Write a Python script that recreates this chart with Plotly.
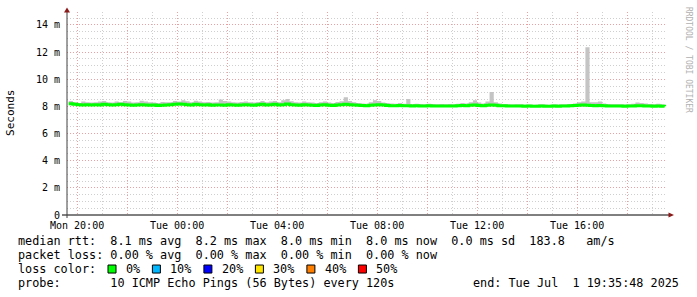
import plotly.graph_objects as go
import pandas as pd

# ---------------- data ----------------
start_time = "2025-06-30 19:35:48"
end_time = "2025-07-01 19:35:48"
sample_times = pd.date_range("2025-06-30 19:40:00", periods=144, freq="10min")

# median rtt in ms (one row per hour, 10-minute samples)
median_ms = [
    8.20, 8.15, 8.12, 8.10, 8.12, 8.10,
    8.12, 8.10, 8.15, 8.12, 8.10, 8.12,
    8.15, 8.12, 8.10, 8.08, 8.10, 8.12,
    8.10, 8.08, 8.10, 8.06, 8.08, 8.10,
    8.12, 8.15, 8.18, 8.15, 8.12, 8.10,
    8.15, 8.12, 8.10, 8.12, 8.08, 8.10,
    8.10, 8.08, 8.12, 8.10, 8.08, 8.10,
    8.12, 8.10, 8.08, 8.12, 8.15, 8.10,
    8.12, 8.15, 8.10, 8.12, 8.18, 8.12,
    8.10, 8.08, 8.12, 8.10, 8.08, 8.06,
    8.10, 8.12, 8.08, 8.06, 8.10, 8.12,
    8.15, 8.12, 8.10, 8.08, 8.06, 8.05,
    8.08, 8.10, 8.12, 8.10, 8.06, 8.05,
    8.05, 8.06, 8.04, 8.05, 8.03, 8.04,
    8.03, 8.02, 8.04, 8.03, 8.02, 8.03,
    8.02, 8.03, 8.02, 8.04, 8.06, 8.05,
    8.08, 8.10, 8.06, 8.05, 8.08, 8.10,
    8.08, 8.05, 8.04, 8.03, 8.02, 8.03,
    8.02, 8.01, 8.02, 8.00, 8.01, 8.02,
    8.01, 8.00, 8.02, 8.01, 8.02, 8.03,
    8.04, 8.06, 8.08, 8.10, 8.08, 8.06,
    8.05, 8.06, 8.04, 8.03, 8.02, 8.03,
    8.02, 8.01, 8.02, 8.03, 8.05, 8.04,
    8.03, 8.02, 8.01, 8.02, 8.01, 8.00,
]

# top of the smoke (slowest ping) in ms
smoke_max_ms = [
    8.40, 8.30, 8.25, 8.35, 8.30, 8.28,
    8.30, 8.35, 8.40, 8.30, 8.28, 8.35,
    8.30, 8.40, 8.35, 8.28, 8.30, 8.42,
    8.35, 8.30, 8.28, 8.25, 8.32, 8.30,
    8.30, 8.40, 8.35, 8.45, 8.38, 8.30,
    8.42, 8.35, 8.30, 8.32, 8.28, 8.30,
    8.50, 8.40, 8.35, 8.30, 8.28, 8.32,
    8.35, 8.30, 8.28, 8.32, 8.40, 8.30,
    8.35, 8.40, 8.30, 8.45, 8.55, 8.38,
    8.30, 8.28, 8.35, 8.30, 8.28, 8.25,
    8.30, 8.35, 8.28, 8.25, 8.32, 8.38,
    8.68, 8.40, 8.30, 8.25, 8.22, 8.20,
    8.30, 8.45, 8.40, 8.28, 8.25, 8.22,
    8.20, 8.25, 8.20, 8.55, 8.18, 8.20,
    8.18, 8.15, 8.20, 8.18, 8.15, 8.18,
    8.15, 8.18, 8.15, 8.20, 8.25, 8.22,
    8.30, 8.45, 8.28, 8.22, 8.35, 9.05,
    8.30, 8.22, 8.18, 8.15, 8.14, 8.16,
    8.15, 8.12, 8.14, 8.12, 8.13, 8.15,
    8.14, 8.12, 8.15, 8.14, 8.15, 8.16,
    8.18, 8.22, 8.30, 8.35, 12.35, 8.30,
    8.30, 8.35, 8.22, 8.18, 8.15, 8.16,
    8.15, 8.14, 8.16, 8.20, 8.28, 8.25,
    8.22, 8.18, 8.16, 8.20, 8.15, 8.14,
]

y_tick_vals = [0, 2, 4, 6, 8, 10, 12, 14]
y_tick_text = ["0", "2 m", "4 m", "6 m", "8 m", "10 m", "12 m", "14 m"]
x_tick_vals = pd.date_range("2025-06-30 20:00:00", periods=12, freq="2h")
x_tick_text = ["Mon 20:00", "", "Tue 00:00", "", "Tue 04:00", "", "Tue 08:00", "",
               "Tue 12:00", "", "Tue 16:00", ""]

legend_lines = [
    "median rtt:  8.1 ms avg  8.2 ms max  8.0 ms min  8.0 ms now  0.0 ms sd  183.8   am/s",
    "packet loss: 0.00 % avg  0.00 % max  0.00 % min  0.00 % now",
    "loss color:",
    "probe:       10 ICMP Echo Pings (56 Bytes) every 120s",
]
end_text = "end: Tue Jul  1 19:35:48 2025"
loss_labels = ["0%", "10%", "20%", "30%", "40%", "50%"]
loss_colors = ["#00ff00", "#00b8ff", "#0000ff", "#ffe600", "#ff8000", "#ff0000"]

# ---------------- layout geometry ----------------
W, H = 697, 297
L, R, B = 67, 30, 82
Y_TOP = 14.95
PX_PER_MS = 13.571
PH = Y_TOP * PX_PER_MS
T = H - B - PH
PW = W - L - R
BOTTOM = H - B


def px(x):
    return (x - L) / PW


def py(y):
    return (BOTTOM - y) / PH


MONO = "DejaVu Sans Mono"
nb = lambda s: s.replace(" ", "\u00a0")

fig = go.Figure()
fig.add_trace(go.Scatter(x=sample_times, y=median_ms, mode="lines", line=dict(width=0, shape="hv"),
                         showlegend=False, hoverinfo="skip"))
fig.add_trace(go.Scatter(x=sample_times, y=smoke_max_ms, mode="lines", line=dict(width=0, shape="hv"),
                         fill="tonexty", fillcolor="#c4c4c4", showlegend=False, hoverinfo="skip"))
fig.add_trace(go.Scatter(x=sample_times, y=median_ms, mode="lines",
                         line=dict(width=3, shape="hv", color="#00ff00"), showlegend=False))

grid_minor = "#cfcfcf"
grid_major = "#eaa0a0"
dash = "1px,2px"

fig.update_xaxes(
    range=[start_time, end_time], tickmode="array", tickvals=x_tick_vals, ticktext=x_tick_text,
    showgrid=True, gridcolor=grid_major, griddash=dash, gridwidth=1,
    minor=dict(dtick=3600000, tick0="2025-06-30 20:00:00", showgrid=True, gridcolor=grid_minor,
               griddash=dash, gridwidth=1),
    showline=False, zeroline=False, ticks="", ticklabelstandoff=3,
    tickfont=dict(family=MONO, size=10, color="#000000"),
)
fig.update_yaxes(
    range=[0, Y_TOP], tickmode="array", tickvals=y_tick_vals, ticktext=y_tick_text,
    showgrid=True, gridcolor=grid_major, griddash=dash, gridwidth=1,
    minor=dict(dtick=0.5, tick0=0, showgrid=True, gridcolor=grid_minor, griddash=dash, gridwidth=1),
    showline=False, zeroline=False, ticks="", ticklabelstandoff=6,
    tickfont=dict(family=MONO, size=10, color="#000000"),
)

shapes = []
# axes with arrows
shapes.append(dict(type="line", xref="paper", yref="paper", x0=px(62), x1=px(669), y0=0, y1=0,
                   line=dict(color="#000000", width=1)))
shapes.append(dict(type="line", xref="paper", yref="paper", x0=0, x1=0, y0=py(218), y1=py(12),
                   line=dict(color="#404040", width=1)))
shapes.append(dict(type="path", xref="paper", yref="paper",
                   path=f"M {px(668.5)} {py(212.5)} L {px(674)} {py(215)} L {px(668.5)} {py(217.5)} Z",
                   fillcolor="#8b1a1a", line=dict(width=0)))
shapes.append(dict(type="path", xref="paper", yref="paper",
                   path=f"M {px(64)} {py(12.5)} L {px(67)} {py(7.5)} L {px(70)} {py(12.5)} Z",
                   fillcolor="#8b1a1a", line=dict(width=0)))

annotations = []
line_y = [241, 255, 269, 283]
LEG_FONT = dict(family=MONO, size=11.8, color="#000000")
for txt, yy in zip(legend_lines, line_y):
    annotations.append(dict(text=nb(txt), xref="paper", yref="paper", x=px(16), y=py(yy),
                            xanchor="left", yanchor="middle", showarrow=False, font=LEG_FONT))
annotations.append(dict(text=nb(end_text), xref="paper", yref="paper", x=px(681), y=py(283),
                        xanchor="right", yanchor="middle", showarrow=False, font=LEG_FONT))

box_x = 108
for lab, col in zip(loss_labels, loss_colors):
    shapes.append(dict(type="rect", xref="paper", yref="paper", x0=px(box_x), x1=px(box_x + 8),
                       y0=py(273), y1=py(265), fillcolor=col, line=dict(color="#000000", width=1)))
    annotations.append(dict(text=lab, xref="paper", yref="paper", x=px(box_x + 16), y=py(269),
                            xanchor="left", yanchor="middle", showarrow=False, font=LEG_FONT))
    box_x += 16 + 7.1 * len(lab) + 14.2

annotations.append(dict(text="Seconds", xref="paper", yref="paper", x=px(11), y=py(113),
                        xanchor="center", yanchor="middle", textangle=-90, showarrow=False,
                        font=dict(family=MONO, size=11, color="#000000")))
annotations.append(dict(text=nb("RRDTOOL / TOBI OETIKER"), xref="paper", yref="paper", x=px(688), y=py(60),
                        xanchor="center", yanchor="middle", textangle=90, showarrow=False,
                        font=dict(family=MONO, size=8, color="#b0b0b0")))

fig.update_layout(
    width=W, height=H, margin=dict(l=L, r=R, t=T, b=B, pad=0),
    paper_bgcolor="#ffffff", plot_bgcolor="#ffffff",
    shapes=shapes, annotations=annotations, showlegend=False,
)

fig.write_html("out.html")
